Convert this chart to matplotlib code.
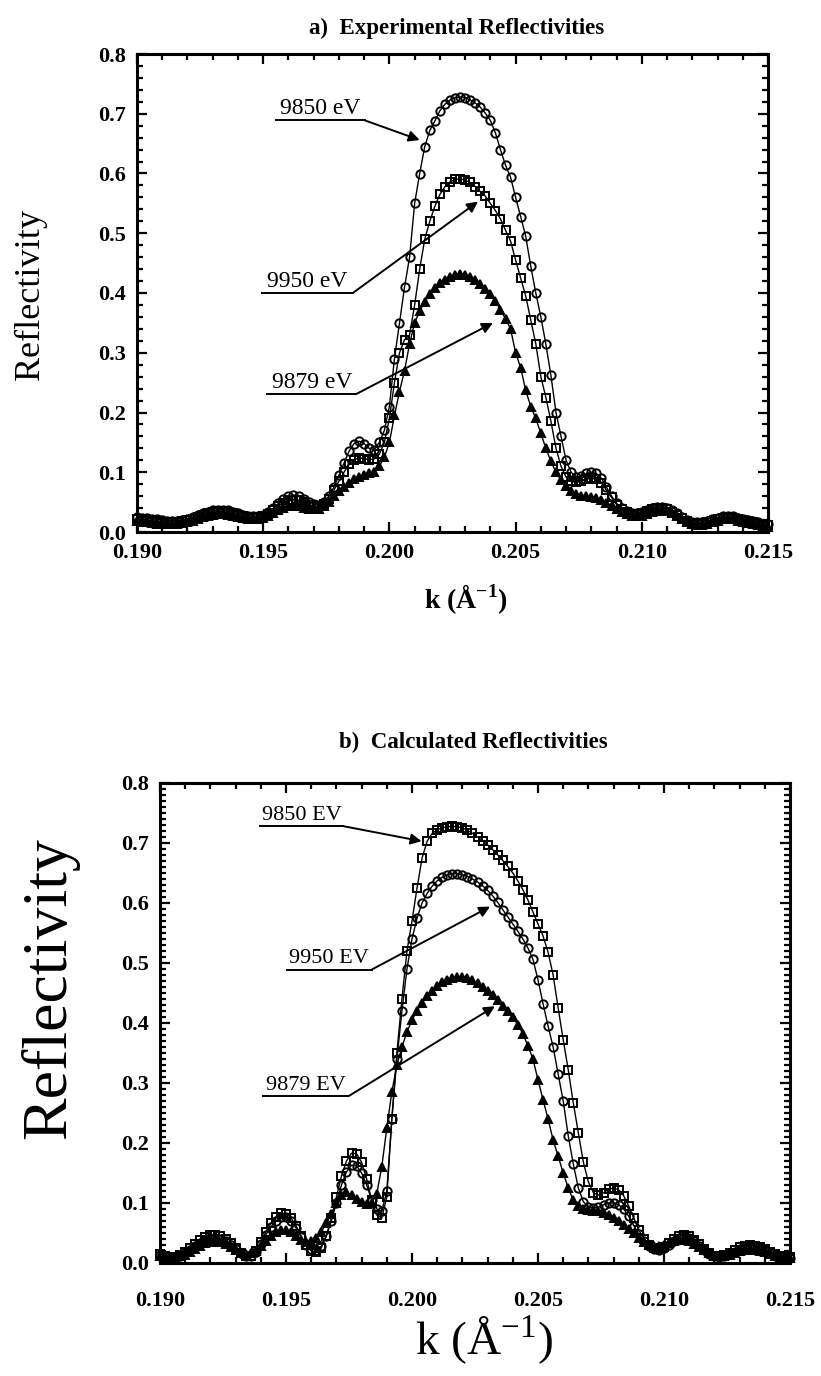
import numpy as np
import matplotlib
matplotlib.use('Agg')
import matplotlib.pyplot as plt
from matplotlib.ticker import MultipleLocator, FormatStrFormatter

plt.rcParams['font.family'] = ['Liberation Serif', 'DejaVu Serif']
plt.rcParams['mathtext.fontset'] = 'custom'
plt.rcParams['mathtext.rm'] = 'Liberation Serif'
plt.rcParams['mathtext.bf'] = 'Liberation Serif:bold'

# k grid (1/A), same sampling for both panels
K = [0.1900, 0.1902, 0.1904, 0.1906, 0.1908, 0.1910, 0.1912, 0.1914, 0.1916, 0.1918,
     0.1920, 0.1922, 0.1924, 0.1926, 0.1928, 0.1930, 0.1932, 0.1934, 0.1936, 0.1938,
     0.1940, 0.1942, 0.1944, 0.1946, 0.1948, 0.1950, 0.1952, 0.1954, 0.1956, 0.1958,
     0.1960, 0.1962, 0.1964, 0.1966, 0.1968, 0.1970, 0.1972, 0.1974, 0.1976, 0.1978,
     0.1980, 0.1982, 0.1984, 0.1986, 0.1988, 0.1990, 0.1992, 0.1994, 0.1996, 0.1998,
     0.2000, 0.2002, 0.2004, 0.2006, 0.2008, 0.2010, 0.2012, 0.2014, 0.2016, 0.2018,
     0.2020, 0.2022, 0.2024, 0.2026, 0.2028, 0.2030, 0.2032, 0.2034, 0.2036, 0.2038,
     0.2040, 0.2042, 0.2044, 0.2046, 0.2048, 0.2050, 0.2052, 0.2054, 0.2056, 0.2058,
     0.2060, 0.2062, 0.2064, 0.2066, 0.2068, 0.2070, 0.2072, 0.2074, 0.2076, 0.2078,
     0.2080, 0.2082, 0.2084, 0.2086, 0.2088, 0.2090, 0.2092, 0.2094, 0.2096, 0.2098,
     0.2100, 0.2102, 0.2104, 0.2106, 0.2108, 0.2110, 0.2112, 0.2114, 0.2116, 0.2118,
     0.2120, 0.2122, 0.2124, 0.2126, 0.2128, 0.2130, 0.2132, 0.2134, 0.2136, 0.2138,
     0.2140, 0.2142, 0.2144, 0.2146, 0.2148, 0.2150]

# a) experimental
exp_9850 = [0.025, 0.024, 0.023, 0.022, 0.021, 0.020, 0.019, 0.019, 0.019, 0.020,
            0.022, 0.025, 0.028, 0.031, 0.034, 0.036, 0.037, 0.037, 0.036, 0.034,
            0.031, 0.029, 0.027, 0.026, 0.026, 0.028, 0.033, 0.040, 0.048, 0.055,
            0.060, 0.062, 0.060, 0.056, 0.051, 0.047, 0.046, 0.050, 0.060, 0.075,
            0.095, 0.115, 0.135, 0.148, 0.152, 0.148, 0.140, 0.138, 0.150, 0.170,
            0.210, 0.290, 0.350, 0.410, 0.460, 0.550, 0.600, 0.645, 0.672, 0.688,
            0.705, 0.716, 0.723, 0.727, 0.728, 0.727, 0.723, 0.718, 0.711, 0.701,
            0.689, 0.668, 0.640, 0.614, 0.594, 0.560, 0.528, 0.495, 0.445, 0.400,
            0.360, 0.314, 0.262, 0.200, 0.160, 0.120, 0.100, 0.092, 0.093, 0.098,
            0.100, 0.098, 0.090, 0.075, 0.060, 0.048, 0.040, 0.035, 0.032, 0.032,
            0.034, 0.037, 0.040, 0.042, 0.042, 0.040, 0.036, 0.031, 0.025, 0.020,
            0.017, 0.016, 0.016, 0.018, 0.021, 0.024, 0.026, 0.027, 0.026, 0.024,
            0.022, 0.020, 0.018, 0.016, 0.014, 0.013]
exp_9950 = [0.022, 0.021, 0.020, 0.019, 0.018, 0.017, 0.017, 0.017, 0.017, 0.018,
            0.020, 0.022, 0.025, 0.028, 0.031, 0.033, 0.034, 0.034, 0.033, 0.031,
            0.028, 0.026, 0.025, 0.024, 0.024, 0.026, 0.030, 0.036, 0.043, 0.049,
            0.053, 0.054, 0.053, 0.050, 0.046, 0.043, 0.043, 0.047, 0.056, 0.070,
            0.085, 0.100, 0.113, 0.121, 0.124, 0.123, 0.121, 0.122, 0.130, 0.150,
            0.190, 0.250, 0.300, 0.322, 0.330, 0.380, 0.440, 0.490, 0.520, 0.545,
            0.565, 0.578, 0.586, 0.590, 0.591, 0.589, 0.585, 0.578, 0.570, 0.562,
            0.550, 0.538, 0.524, 0.505, 0.487, 0.455, 0.425, 0.395, 0.355, 0.315,
            0.260, 0.225, 0.185, 0.140, 0.110, 0.092, 0.085, 0.083, 0.085, 0.088,
            0.090, 0.088, 0.082, 0.070, 0.058, 0.046, 0.038, 0.033, 0.030, 0.030,
            0.032, 0.035, 0.038, 0.040, 0.040, 0.038, 0.034, 0.029, 0.023, 0.018,
            0.015, 0.014, 0.014, 0.016, 0.019, 0.022, 0.024, 0.025, 0.024, 0.022,
            0.020, 0.018, 0.016, 0.014, 0.012, 0.011]
exp_9879 = [0.018, 0.017, 0.016, 0.015, 0.014, 0.014, 0.013, 0.013, 0.014, 0.015,
            0.017, 0.019, 0.022, 0.025, 0.027, 0.029, 0.030, 0.030, 0.029, 0.027,
            0.025, 0.023, 0.022, 0.021, 0.022, 0.024, 0.027, 0.032, 0.037, 0.041,
            0.043, 0.044, 0.043, 0.041, 0.039, 0.038, 0.039, 0.043, 0.050, 0.060,
            0.068, 0.075, 0.082, 0.088, 0.092, 0.095, 0.098, 0.100, 0.110, 0.125,
            0.150, 0.195, 0.235, 0.270, 0.315, 0.350, 0.370, 0.385, 0.398, 0.408,
            0.416, 0.422, 0.427, 0.430, 0.431, 0.430, 0.427, 0.422, 0.415, 0.407,
            0.398, 0.386, 0.372, 0.357, 0.340, 0.300, 0.275, 0.237, 0.210, 0.190,
            0.165, 0.140, 0.118, 0.100, 0.087, 0.077, 0.069, 0.064, 0.061, 0.060,
            0.059, 0.057, 0.054, 0.049, 0.044, 0.039, 0.034, 0.030, 0.027, 0.026,
            0.027, 0.030, 0.033, 0.035, 0.036, 0.035, 0.031, 0.026, 0.021, 0.016,
            0.013, 0.012, 0.012, 0.014, 0.016, 0.019, 0.021, 0.022, 0.021, 0.019,
            0.017, 0.015, 0.013, 0.011, 0.010, 0.009]

# b) calculated
calc_9850 = [0.015, 0.012, 0.010, 0.010, 0.013, 0.018, 0.025, 0.032, 0.038, 0.043,
             0.046, 0.047, 0.045, 0.040, 0.033, 0.025, 0.017, 0.012, 0.012, 0.020,
             0.035, 0.052, 0.066, 0.077, 0.083, 0.082, 0.075, 0.062, 0.045, 0.030,
             0.020, 0.018, 0.025, 0.045, 0.075, 0.110, 0.145, 0.170, 0.183, 0.182,
             0.168, 0.140, 0.105, 0.080, 0.075, 0.110, 0.240, 0.350, 0.440, 0.520,
             0.570, 0.625, 0.675, 0.703, 0.716, 0.722, 0.725, 0.727, 0.728, 0.727,
             0.725, 0.721, 0.716, 0.710, 0.704, 0.697, 0.689, 0.680, 0.671, 0.661,
             0.650, 0.637, 0.622, 0.605, 0.585, 0.565, 0.545, 0.518, 0.480, 0.425,
             0.372, 0.322, 0.267, 0.217, 0.168, 0.135, 0.117, 0.113, 0.117, 0.123,
             0.125, 0.122, 0.112, 0.095, 0.075, 0.055, 0.040, 0.030, 0.025, 0.024,
             0.027, 0.033, 0.040, 0.045, 0.047, 0.045, 0.039, 0.031, 0.023, 0.016,
             0.012, 0.011, 0.013, 0.017, 0.022, 0.026, 0.029, 0.030, 0.029, 0.027,
             0.023, 0.019, 0.015, 0.012, 0.010, 0.010]
calc_9950 = [0.013, 0.011, 0.009, 0.009, 0.012, 0.016, 0.022, 0.028, 0.034, 0.038,
             0.041, 0.042, 0.040, 0.036, 0.030, 0.023, 0.016, 0.012, 0.012, 0.018,
             0.031, 0.047, 0.060, 0.070, 0.076, 0.076, 0.070, 0.058, 0.043, 0.030,
             0.023, 0.022, 0.028, 0.045, 0.070, 0.100, 0.130, 0.152, 0.163, 0.162,
             0.150, 0.130, 0.105, 0.090, 0.086, 0.120, 0.240, 0.340, 0.420, 0.490,
             0.540, 0.575, 0.600, 0.616, 0.628, 0.637, 0.643, 0.647, 0.649, 0.649,
             0.647, 0.644, 0.640, 0.635, 0.629, 0.621, 0.612, 0.601, 0.589, 0.577,
             0.565, 0.553, 0.540, 0.525, 0.506, 0.472, 0.432, 0.395, 0.360, 0.315,
             0.270, 0.212, 0.165, 0.125, 0.102, 0.094, 0.092, 0.093, 0.097, 0.100,
             0.100, 0.097, 0.090, 0.078, 0.062, 0.048, 0.036, 0.028, 0.023, 0.022,
             0.025, 0.030, 0.036, 0.041, 0.043, 0.041, 0.036, 0.029, 0.021, 0.015,
             0.011, 0.010, 0.012, 0.015, 0.019, 0.023, 0.026, 0.027, 0.026, 0.024,
             0.021, 0.017, 0.014, 0.011, 0.009, 0.009]
calc_9879 = [0.012, 0.010, 0.009, 0.009, 0.011, 0.014, 0.019, 0.024, 0.029, 0.033,
             0.035, 0.036, 0.035, 0.032, 0.027, 0.022, 0.017, 0.015, 0.016, 0.020,
             0.028, 0.037, 0.045, 0.051, 0.055, 0.055, 0.051, 0.045, 0.039, 0.035,
             0.036, 0.042, 0.052, 0.066, 0.082, 0.100, 0.113, 0.118, 0.113, 0.106,
             0.101, 0.099, 0.100, 0.115, 0.160, 0.225, 0.285, 0.330, 0.360, 0.385,
             0.405, 0.420, 0.434, 0.445, 0.454, 0.462, 0.468, 0.472, 0.475, 0.477,
             0.477, 0.475, 0.471, 0.466, 0.460, 0.453, 0.446, 0.438, 0.429, 0.420,
             0.410, 0.397, 0.382, 0.362, 0.340, 0.305, 0.272, 0.240, 0.205, 0.178,
             0.150, 0.125, 0.105, 0.095, 0.090, 0.088, 0.087, 0.086, 0.084, 0.080,
             0.075, 0.070, 0.064, 0.057, 0.050, 0.042, 0.035, 0.030, 0.028, 0.028,
             0.030, 0.033, 0.036, 0.038, 0.038, 0.036, 0.032, 0.027, 0.021, 0.016,
             0.012, 0.011, 0.012, 0.014, 0.017, 0.020, 0.022, 0.023, 0.022, 0.020,
             0.018, 0.015, 0.012, 0.010, 0.009, 0.008]

# labels: (text, underline start k, underline end k, underline R, arrow tip k, arrow tip R)
notes_a = [('9850 eV', 0.19550, 0.19902, 0.689, 0.20120, 0.656),
           ('9950 eV', 0.19497, 0.19855, 0.400, 0.20351, 0.553),
           ('9879 eV', 0.19517, 0.19869, 0.231, 0.20410, 0.350)]
notes_b = [('9850 EV', 0.19397, 0.19728, 0.728, 0.20038, 0.703),
           ('9950 EV', 0.19503, 0.19840, 0.489, 0.20310, 0.594),
           ('9879 EV', 0.19410, 0.19748, 0.278, 0.20329, 0.428)]


def draw_series(ax, y, marker, filled):
    ax.plot(K, y, color='black', lw=1.0, marker=marker,
            ms=6 if marker != '^' else 5.5,
            mfc='black' if filled else 'none', mec='black', mew=1.4,
            clip_on=False, zorder=3)


def style_axes(ax, y_minor, xpad):
    ax.set_xlim(0.190, 0.215)
    ax.set_ylim(0.0, 0.8)
    ax.xaxis.set_major_locator(MultipleLocator(0.005))
    ax.xaxis.set_minor_locator(MultipleLocator(0.001))
    ax.yaxis.set_major_locator(MultipleLocator(0.1))
    ax.yaxis.set_minor_locator(MultipleLocator(y_minor))
    ax.xaxis.set_major_formatter(FormatStrFormatter('%.3f'))
    ax.yaxis.set_major_formatter(FormatStrFormatter('%.1f'))
    ax.tick_params(which='both', direction='in', top=True, right=True,
                   width=1.6, labelsize=16)
    ax.tick_params(which='major', length=7)
    ax.tick_params(which='minor', length=4)
    ax.tick_params(axis='x', pad=xpad)
    ax.tick_params(axis='y', pad=8)
    for lbl in ax.get_xticklabels() + ax.get_yticklabels():
        lbl.set_fontweight('bold')
    for sp in ax.spines.values():
        sp.set_linewidth(2.2)


def draw_notes(ax, notes, size):
    for text, x0, x1, yu, xt, yt in notes:
        ax.plot([x0, x1], [yu, yu], color='black', lw=1.4, zorder=4)
        ax.annotate(text, xy=((x0 + x1) / 2, yu), xytext=(0, 1),
                    textcoords='offset points', ha='center', va='bottom',
                    fontsize=size)
        ax.annotate('', xy=(xt, yt), xytext=(x1, yu),
                    arrowprops=dict(arrowstyle='-|>', color='black', lw=1.4,
                                    mutation_scale=16, shrinkA=0, shrinkB=0),
                    zorder=4)


fig = plt.figure(figsize=(8.21, 13.76), dpi=100)
ax_a = fig.add_axes([137 / 821, 1 - 532 / 1376, 631 / 821, 478 / 1376])
ax_b = fig.add_axes([160 / 821, 1 - 1263 / 1376, 630 / 821, 480 / 1376])

# panel a
draw_series(ax_a, exp_9879, '^', True)
draw_series(ax_a, exp_9950, 's', False)
draw_series(ax_a, exp_9850, 'o', False)
style_axes(ax_a, 0.02, 8)
draw_notes(ax_a, notes_a, 17)

# panel b
draw_series(ax_b, calc_9879, '^', True)
draw_series(ax_b, calc_9950, 'o', False)
draw_series(ax_b, calc_9850, 's', False)
style_axes(ax_b, 0.01, 20)
draw_notes(ax_b, notes_b, 16)

fig.text(457 / 821, 1 - 28 / 1376, 'a)  Experimental Reflectivities',
         ha='center', va='center', fontsize=16.5, fontweight='bold')
fig.text(473 / 821, 1 - 742 / 1376, 'b)  Calculated Reflectivities',
         ha='center', va='center', fontsize=16.5, fontweight='bold')

fig.text(30 / 821, 1 - 295 / 1376, 'Reflectivity', rotation=90,
         ha='center', va='center', fontsize=26)
fig.text(50 / 821, 1 - 988 / 1376, 'Reflectivity', rotation=90,
         ha='center', va='center', fontsize=46)

fig.text(466 / 821, 1 - 600 / 1376, r'k (Å$^{\mathbf{-1}}$)',
         ha='center', va='center', fontsize=20, fontweight='bold')
fig.text(484 / 821, 1 - 1340 / 1376, r'k (Å$^{-1}$)',
         ha='center', va='center', fontsize=34)

fig.savefig('out.png', dpi=100, facecolor='white')
